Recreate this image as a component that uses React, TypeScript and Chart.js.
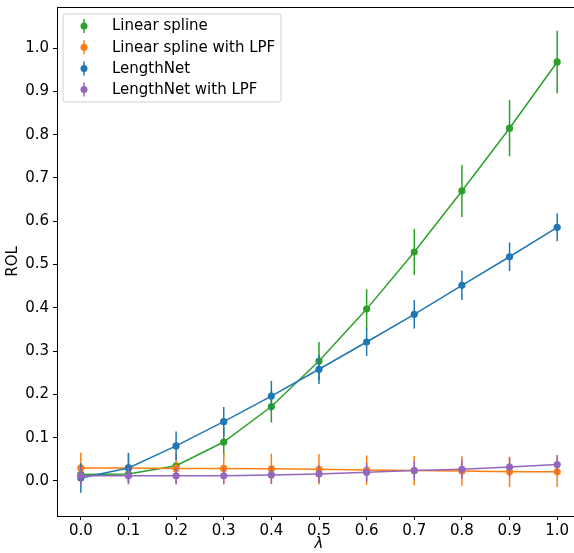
import React, { useEffect, useRef } from 'react';
import { Chart, registerables } from 'chart.js';

Chart.register(...registerables);

const lambdas = [0.0, 0.1, 0.2, 0.3, 0.4, 0.5, 0.6, 0.7, 0.8, 0.9, 1.0];
const yTickValues = [0.0, 0.1, 0.2, 0.3, 0.4, 0.5, 0.6, 0.7, 0.8, 0.9, 1.0];

const seriesNames = ['Linear spline', 'Linear spline with LPF', 'LengthNet', 'LengthNet with LPF'];
const seriesColors = ['#2ca02c', '#ff7f0e', '#1f77b4', '#9467bd'];

const splineVals = [0.015, 0.016, 0.035, 0.09, 0.172, 0.277, 0.397, 0.529, 0.67, 0.815, 0.968];
const splineErr = [0.004, 0.004, 0.008, 0.035, 0.037, 0.044, 0.046, 0.053, 0.06, 0.065, 0.072];

const lpfSplineVals = [0.03, 0.03, 0.029, 0.029, 0.028, 0.027, 0.025, 0.024, 0.023, 0.021, 0.021];
const lpfSplineErr = [0.035, 0.035, 0.035, 0.035, 0.035, 0.035, 0.034, 0.034, 0.034, 0.035, 0.035];

const lengthNetVals = [0.007, 0.03, 0.081, 0.137, 0.196, 0.258, 0.321, 0.385, 0.452, 0.518, 0.586];
const lengthNetErr = [0.034, 0.034, 0.033, 0.034, 0.035, 0.034, 0.032, 0.033, 0.034, 0.033, 0.032];

const lpfLengthNetVals = [0.012, 0.012, 0.012, 0.012, 0.014, 0.016, 0.02, 0.024, 0.027, 0.032, 0.038];
const lpfLengthNetErr = [0.02, 0.02, 0.02, 0.02, 0.02, 0.02, 0.021, 0.022, 0.022, 0.022, 0.022];

const allVals = [splineVals, lpfSplineVals, lengthNetVals, lpfLengthNetVals];
const allErrs = [splineErr, lpfSplineErr, lengthNetErr, lpfLengthNetErr];

const FONT = 'DejaVu Sans';
const FSIZE = 15;
const CANVAS_W = 582;
const CANVAS_H = 553;

const errorBarPlugin = {
  id: 'errorBars',
  beforeDatasetDraw(chart: any, args: any) {
    const ds: any = chart.data.datasets[args.index];
    const errs: number[] = ds.errors;
    if (!errs) return;
    const { ctx, chartArea } = chart;
    const xs = chart.scales.x;
    const ys = chart.scales.y;
    ctx.save();
    ctx.beginPath();
    ctx.rect(chartArea.left, chartArea.top, chartArea.right - chartArea.left, chartArea.bottom - chartArea.top);
    ctx.clip();
    ctx.strokeStyle = ds.borderColor;
    ctx.lineWidth = 1.5;
    ds.data.forEach((p: any, i: number) => {
      const px = xs.getPixelForValue(p.x);
      ctx.beginPath();
      ctx.moveTo(px, ys.getPixelForValue(p.y - errs[i]));
      ctx.lineTo(px, ys.getPixelForValue(p.y + errs[i]));
      ctx.stroke();
    });
    ctx.restore();
  },
};

const framePlugin = {
  id: 'frameAndLegend',
  afterDraw(chart: any) {
    const { ctx, chartArea } = chart;
    ctx.save();
    // top and right spines
    ctx.strokeStyle = '#000';
    ctx.lineWidth = 1;
    ctx.beginPath();
    ctx.moveTo(chartArea.left, Math.round(chartArea.top) + 0.5);
    ctx.lineTo(chartArea.right, Math.round(chartArea.top) + 0.5);
    ctx.lineTo(chartArea.right, chartArea.bottom);
    ctx.stroke();

    // legend box
    const bx = chartArea.left + 6;
    const by = chartArea.top + 7;
    const bw = 218;
    const bh = 88;
    const r = 3;
    ctx.beginPath();
    ctx.moveTo(bx + r, by);
    ctx.lineTo(bx + bw - r, by);
    ctx.quadraticCurveTo(bx + bw, by, bx + bw, by + r);
    ctx.lineTo(bx + bw, by + bh - r);
    ctx.quadraticCurveTo(bx + bw, by + bh, bx + bw - r, by + bh);
    ctx.lineTo(bx + r, by + bh);
    ctx.quadraticCurveTo(bx, by + bh, bx, by + bh - r);
    ctx.lineTo(bx, by + r);
    ctx.quadraticCurveTo(bx, by, bx + r, by);
    ctx.closePath();
    ctx.fillStyle = 'rgba(255,255,255,0.8)';
    ctx.fill();
    ctx.strokeStyle = '#d0d0d0';
    ctx.lineWidth = 1;
    ctx.stroke();

    chart.data.datasets.forEach((ds: any, i: number) => {
      const cy = by + 12 + i * 21.2;
      const mx = bx + 21;
      ctx.strokeStyle = ds.borderColor;
      ctx.lineWidth = 1.5;
      ctx.beginPath();
      ctx.moveTo(mx, cy - 7);
      ctx.lineTo(mx, cy + 7);
      ctx.stroke();
      ctx.fillStyle = ds.borderColor;
      ctx.beginPath();
      ctx.arc(mx, cy, 3.5, 0, Math.PI * 2);
      ctx.fill();
      ctx.fillStyle = '#000';
      ctx.font = `${FSIZE}px "${FONT}"`;
      ctx.textBaseline = 'middle';
      ctx.textAlign = 'left';
      ctx.fillText(ds.label, bx + 49, cy + 0.5);
    });
    ctx.restore();
  },
};

export default function App() {
  const canvasRef = useRef<HTMLCanvasElement | null>(null);

  useEffect(() => {
    const canvas = canvasRef.current;
    if (!canvas) return;
    const datasets = seriesNames.map((name, si) => ({
      label: name,
      data: lambdas.map((l, i) => ({ x: l, y: allVals[si][i] })),
      errors: allErrs[si],
      borderColor: seriesColors[si],
      backgroundColor: seriesColors[si],
      pointBackgroundColor: seriesColors[si],
      pointBorderWidth: 0,
      pointRadius: 3.6,
      pointHoverRadius: 3.6,
      borderWidth: 1.5,
      tension: 0,
      order: seriesNames.length - si,
    }));

    const chart = new Chart(canvas, {
      type: 'line',
      data: { datasets } as any,
      options: {
        animation: false,
        responsive: false,
        devicePixelRatio: 1,
        events: [],
        layout: { autoPadding: false, padding: { left: 0, top: 7, right: 1, bottom: 0 } },
        plugins: {
          legend: { display: false },
          tooltip: { enabled: false },
        },
        scales: {
          x: {
            type: 'linear',
            min: -0.05,
            max: 1.05,
            afterBuildTicks: (scale: any) => {
              scale.ticks = lambdas.map((v) => ({ value: v }));
            },
            afterFit: (scale: any) => {
              scale.height = 37;
              scale.paddingLeft = 0;
              scale.paddingRight = 0;
            },
            grid: {
              drawOnChartArea: false,
              drawTicks: true,
              tickLength: 4,
              tickColor: '#000',
              color: '#000',
            },
            border: { display: true, color: '#000', width: 1 },
            ticks: {
              padding: 2,
              color: '#000',
              maxRotation: 0,
              autoSkip: false,
              font: { family: FONT, size: FSIZE },
              callback: (v: any) => Number(v).toFixed(1),
            },
            title: {
              display: true,
              text: 'λ',
              color: '#000',
              padding: { top: 0, bottom: 0 },
              font: { family: FONT, size: FSIZE, style: 'italic' },
            },
          },
          y: {
            type: 'linear',
            min: -0.081,
            max: 1.095,
            afterBuildTicks: (scale: any) => {
              scale.ticks = yTickValues.map((v) => ({ value: v }));
            },
            afterFit: (scale: any) => {
              scale.width = 57;
              scale.paddingTop = 0;
              scale.paddingBottom = 0;
            },
            grid: {
              drawOnChartArea: false,
              drawTicks: true,
              tickLength: 4,
              tickColor: '#000',
              color: '#000',
            },
            border: { display: true, color: '#000', width: 1 },
            ticks: {
              padding: 4,
              color: '#000',
              autoSkip: false,
              font: { family: FONT, size: FSIZE },
              callback: (v: any) => Number(v).toFixed(1),
            },
            title: {
              display: true,
              text: 'ROL',
              color: '#000',
              padding: { top: 4.5, bottom: 0 },
              font: { family: FONT, size: FSIZE },
            },
          },
        },
      } as any,
      plugins: [errorBarPlugin, framePlugin],
    });
    return () => chart.destroy();
  }, []);

  return (
    <div style={{ position: 'fixed', left: 0, top: 0, width: 574, height: 553, overflow: 'hidden', background: '#fff' }}>
      <canvas
        ref={canvasRef}
        width={CANVAS_W}
        height={CANVAS_H}
        style={{ display: 'block', width: CANVAS_W + 'px', height: CANVAS_H + 'px', maxWidth: 'none' }}
      />
    </div>
  );
}
